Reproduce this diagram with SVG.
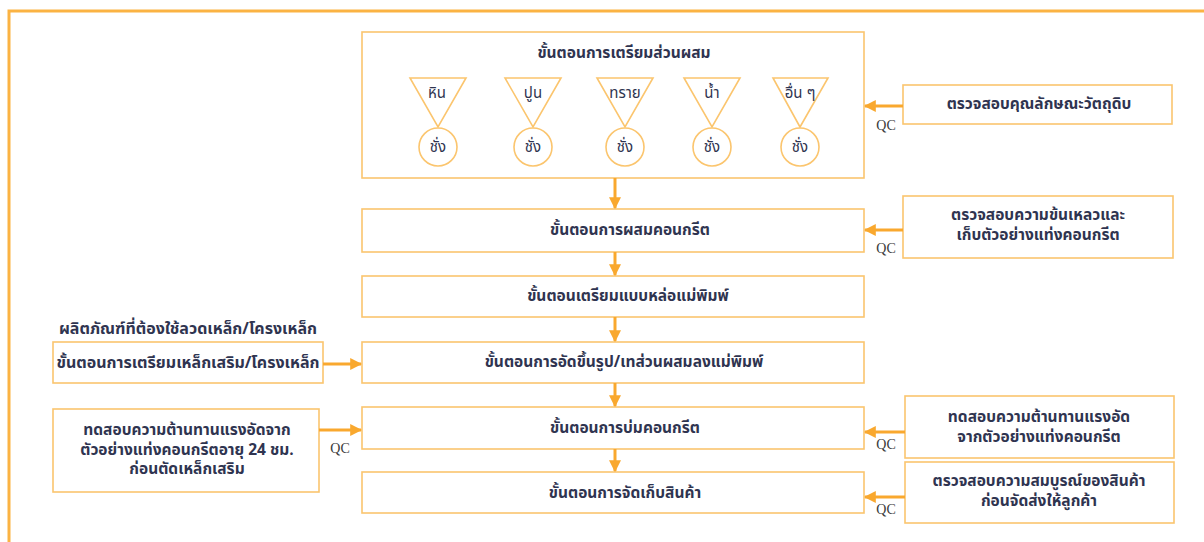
<svg xmlns="http://www.w3.org/2000/svg" width="1204" height="542" viewBox="0 0 1204 542">
<defs>
<marker id="ah" viewBox="0 0 10 10" refX="9" refY="5" markerWidth="4" markerHeight="4" orient="auto" markerUnits="strokeWidth">
<path d="M0,0 L10,5 L0,10 Z" fill="#F9A82E"/>
</marker>
<style>
.box{fill:#FFFFFF;stroke:#FBC56E;stroke-width:1.6}
.frame{fill:none;stroke:#FBB343;stroke-width:3}
.t{font-family:"Noto Sans Thai","Noto Sans","DejaVu Sans",sans-serif;font-weight:bold;font-size:15.5px;fill:#2F3450;text-anchor:middle;dominant-baseline:central}
.tl{font-size:16px}
.r{font-family:"Noto Sans Thai","Noto Sans","DejaVu Sans",sans-serif;font-size:15px;fill:#2F3450;text-anchor:middle;dominant-baseline:central}
.qc{font-family:"Liberation Serif",serif;font-size:14px;fill:#3A3A3A;text-anchor:middle;dominant-baseline:central}
.c{stroke:#F9A82E;stroke-width:3;fill:none;marker-end:url(#ah)}
.tri{fill:#FFFFFF;stroke:#FBC56E;stroke-width:1.6}
</style>
</defs>
<rect x="0" y="0" width="1204" height="542" fill="#FFFFFF"/>
<rect class="frame" x="9" y="11" width="1205" height="535"/>

<g id="prep">
<rect class="box" x="362" y="32" width="502" height="146"/>
<text class="t" x="624" y="53">ขั้นตอนการเตรียมส่วนผสม</text>
<polygon class="tri" points="410,78 466,78 438,127"/>
<text class="r" x="437" y="93">หิน</text>
<circle class="tri" cx="438" cy="147" r="19"/>
<text class="r" x="438" y="147">ชั่ง</text>
<polygon class="tri" points="505,78 561,78 533,127"/>
<text class="r" x="533" y="93">ปูน</text>
<circle class="tri" cx="533" cy="147" r="19"/>
<text class="r" x="533" y="147">ชั่ง</text>
<polygon class="tri" points="597,78 653,78 625,127"/>
<text class="r" x="625" y="93">ทราย</text>
<circle class="tri" cx="625" cy="147" r="19"/>
<text class="r" x="625" y="147">ชั่ง</text>
<polygon class="tri" points="684,78 740,78 712,127"/>
<text class="r" x="712" y="93">น้ำ</text>
<circle class="tri" cx="712" cy="147" r="19"/>
<text class="r" x="712" y="147">ชั่ง</text>
<polygon class="tri" points="773,78 828,78 800,127"/>
<text class="r" x="800" y="93">อื่น ๆ</text>
<circle class="tri" cx="800" cy="147" r="19"/>
<text class="r" x="800" y="147">ชั่ง</text>
</g>

<g id="mix">
<rect class="box" x="362" y="209" width="502" height="43"/>
<text class="t" x="630" y="230">ขั้นตอนการผสมคอนกรีต</text>
</g>
<g id="mold">
<rect class="box" x="362" y="276" width="502" height="41"/>
<text class="t" x="628" y="296">ขั้นตอนเตรียมแบบหล่อแม่พิมพ์</text>
</g>
<g id="form">
<rect class="box" x="362" y="342" width="502" height="41"/>
<text class="t" x="624" y="362">ขั้นตอนการอัดขึ้นรูป/เทส่วนผสมลงแม่พิมพ์</text>
</g>
<g id="cure">
<rect class="box" x="362" y="407" width="502" height="42"/>
<text class="t" x="625" y="428">ขั้นตอนการบ่มคอนกรีต</text>
</g>
<g id="store">
<rect class="box" x="362" y="472" width="502" height="41"/>
<text class="t" x="625" y="493">ขั้นตอนการจัดเก็บสินค้า</text>
</g>

<g id="qc1">
<rect class="box" x="903" y="85" width="269" height="39"/>
<text class="t" x="1039" y="104">ตรวจสอบคุณลักษณะวัตถุดิบ</text>
</g>
<g id="qc2">
<rect class="box" x="903" y="196" width="270" height="62"/>
<text class="t" x="1038" y="215">ตรวจสอบความข้นเหลวและ</text>
<text class="t" x="1038" y="235">เก็บตัวอย่างแท่งคอนกรีต</text>
</g>
<g id="qc3">
<rect class="box" x="905" y="396" width="269" height="62"/>
<text class="t" x="1039" y="417">ทดสอบความต้านทานแรงอัด</text>
<text class="t" x="1039" y="437">จากตัวอย่างแท่งคอนกรีต</text>
</g>
<g id="qc4">
<rect class="box" x="905" y="462" width="269" height="61"/>
<text class="t" x="1039" y="481">ตรวจสอบความสมบูรณ์ของสินค้า</text>
<text class="t" x="1039" y="501">ก่อนจัดส่งให้ลูกค้า</text>
</g>

<g id="steel-label">
<text class="t tl" x="188" y="329">ผลิตภัณฑ์ที่ต้องใช้ลวดเหล็ก/โครงเหล็ก</text>
</g>
<g id="steel">
<rect class="box" x="53" y="342" width="270" height="41"/>
<text class="t tl" x="188" y="363">ขั้นตอนการเตรียมเหล็กเสริม/โครงเหล็ก</text>
</g>
<g id="test24">
<rect class="box" x="53" y="409" width="266" height="83"/>
<text class="t" x="187" y="430">ทดสอบความต้านทานแรงอัดจาก</text>
<text class="t" x="187" y="450">ตัวอย่างแท่งคอนกรีตอายุ 24 ชม.</text>
<text class="t" x="187" y="469">ก่อนตัดเหล็กเสริม</text>
</g>

<g id="connectors">
<line class="c" x1="615" y1="178" x2="615" y2="208"/>
<line class="c" x1="615" y1="252" x2="615" y2="275"/>
<line class="c" x1="615" y1="317" x2="615" y2="341"/>
<line class="c" x1="615" y1="383" x2="615" y2="406"/>
<line class="c" x1="615" y1="449" x2="615" y2="471"/>
<line class="c" x1="903" y1="106" x2="865" y2="106"/>
<line class="c" x1="903" y1="230" x2="865" y2="230"/>
<line class="c" x1="905" y1="432" x2="865" y2="432"/>
<line class="c" x1="905" y1="497" x2="865" y2="497"/>
<line class="c" x1="323" y1="364" x2="361" y2="364"/>
<line class="c" x1="319" y1="430" x2="361" y2="430"/>
<text class="qc" x="886" y="125">QC</text>
<text class="qc" x="886" y="248">QC</text>
<text class="qc" x="886" y="444">QC</text>
<text class="qc" x="886" y="509">QC</text>
<text class="qc" x="340" y="448">QC</text>
</g>
</svg>
